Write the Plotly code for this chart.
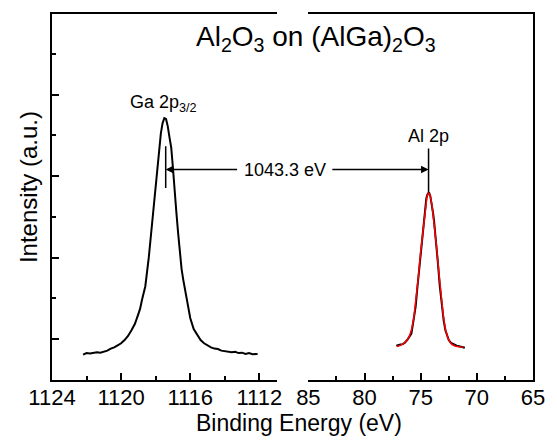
import plotly.graph_objects as go

# Ga 2p3/2 region (binding energy, eV) and intensity (a.u.)
ga_be = [1122.2, 1122.0, 1121.8, 1121.6, 1121.4, 1121.2, 1121.0, 1120.8, 1120.6, 1120.4,
         1120.2, 1120.0, 1119.8, 1119.6, 1119.4, 1119.2, 1119.0, 1118.9, 1118.8, 1118.6,
         1118.4, 1118.2, 1118.0, 1117.9, 1117.8, 1117.7, 1117.6, 1117.5, 1117.4, 1117.3,
         1117.2, 1117.1, 1117.0, 1116.9, 1116.8, 1116.7, 1116.6, 1116.5, 1116.4, 1116.3,
         1116.2, 1116.0, 1115.8, 1115.6, 1115.4, 1115.2, 1115.0, 1114.8, 1114.6, 1114.4,
         1114.2, 1114.0, 1113.8, 1113.6, 1113.4, 1113.2, 1113.0, 1112.8, 1112.6, 1112.4,
         1112.2, 1112.1]
ga_int = [0.62, 0.66, 0.65, 0.67, 0.68, 0.67, 0.70, 0.72, 0.77, 0.80,
          0.85, 0.90, 0.98, 1.08, 1.22, 1.38, 1.62, 1.75, 1.95, 2.30,
          3.00, 3.85, 4.80, 5.30, 5.72, 6.05, 6.30, 6.42, 6.40, 6.22,
          5.95, 5.70, 5.20, 4.55, 4.10, 3.60, 3.10, 2.72, 2.45, 2.22,
          2.00, 1.52, 1.25, 1.10, 0.98, 0.90, 0.84, 0.80, 0.77, 0.76,
          0.72, 0.71, 0.70, 0.68, 0.69, 0.66, 0.67, 0.64, 0.66, 0.63,
          0.64, 0.63]

# Al 2p region: measured data
al_be = [77.17, 77.0, 76.8, 76.6, 76.43, 76.2, 76.0, 75.83, 75.7, 75.6,
         75.45, 75.3, 75.2, 75.09, 74.9, 74.73, 74.6, 74.5, 74.4, 74.26,
         74.15, 74.0, 73.9, 73.81, 73.6, 73.46, 73.3, 73.1, 72.95, 72.8,
         72.71, 72.5, 72.3, 72.12, 71.8, 71.5, 71.3, 71.07]
al_int = [0.84, 0.86, 0.87, 0.88, 0.91, 0.98, 1.06, 1.14, 1.35, 1.55,
          1.80, 2.25, 2.55, 2.85, 3.40, 3.90, 4.25, 4.45, 4.55, 4.60,
          4.52, 4.30, 4.10, 3.90, 3.35, 2.85, 2.30, 1.79, 1.45, 1.22,
          1.14, 0.98, 0.91, 0.88, 0.84, 0.82, 0.80, 0.79]

# Al 2p fit
fit_be = [77.1, 76.8, 76.5, 76.2, 76.0, 75.8, 75.6, 75.4, 75.2, 75.0,
          74.8, 74.6, 74.45, 74.3, 74.15, 74.0, 73.8, 73.6, 73.4, 73.2,
          73.0, 72.8, 72.6, 72.4, 72.2, 71.9, 71.6, 71.2]
fit_int = [0.82, 0.85, 0.90, 0.98, 1.08, 1.25, 1.55, 2.00, 2.55, 3.15,
           3.70, 4.20, 4.48, 4.60, 4.52, 4.30, 3.85, 3.30, 2.70, 2.10,
           1.60, 1.25, 1.05, 0.93, 0.87, 0.83, 0.81, 0.80]

left_ticks = [1124, 1120, 1116, 1112]
right_ticks = [85, 80, 75, 70, 65]

ga_peak = 1117.42
al_peak = 74.3
delta_label = "1043.3 eV"

FONT = "Liberation Sans, Arial, sans-serif"

fig = go.Figure()
fig.add_trace(go.Scatter(x=ga_be, y=ga_int, mode="lines", line=dict(color="black", width=2),
                         xaxis="x", yaxis="y", showlegend=False))
fig.add_trace(go.Scatter(x=al_be, y=al_int, mode="lines", line=dict(color="black", width=2),
                         xaxis="x2", yaxis="y2", showlegend=False))
fig.add_trace(go.Scatter(x=fit_be, y=fit_int, mode="lines", line=dict(color="red", width=1.5),
                         xaxis="x2", yaxis="y2", showlegend=False))

axis_common = dict(showline=True, linecolor="black", linewidth=1.5, mirror=True,
                   ticks="inside", ticklen=7, tickwidth=1.5, tickcolor="black",
                   showgrid=False, zeroline=False, ticklabelstandoff=-3,
                   tickfont=dict(family=FONT, size=22, color="black"))

fig.update_layout(
    width=557, height=441,
    margin=dict(l=52, r=23, t=12, b=61),
    plot_bgcolor="white", paper_bgcolor="white",
    xaxis=dict(domain=[0, 0.467], range=[1124, 1111], tickvals=left_ticks,
               minor=dict(dtick=2, ticks="inside", ticklen=4, tickcolor="black", tickwidth=1.5),
               anchor="y", **axis_common),
    xaxis2=dict(domain=[0.533, 1], range=[85, 65], tickvals=right_ticks,
                minor=dict(dtick=2.5, ticks="inside", ticklen=4, tickcolor="black", tickwidth=1.5),
                anchor="y2", **axis_common),
    yaxis=dict(range=[0, 8.976], anchor="x", showline=True, linecolor="black", linewidth=1.5,
               mirror=False, ticks="inside", ticklen=7, tickwidth=1.5, tickcolor="black",
               tick0=1, dtick=2, showticklabels=False, showgrid=False, zeroline=False,
               minor=dict(dtick=1, tick0=0, ticks="inside", ticklen=4, tickcolor="black", tickwidth=1.5)),
    yaxis2=dict(range=[0, 8.976], anchor="x2", side="right", showline=True, linecolor="black",
                linewidth=1.5, ticks="", showticklabels=False, showgrid=False, zeroline=False),
)

# peak marker lines
fig.add_shape(type="line", xref="x", yref="y", x0=ga_peak, x1=ga_peak, y0=4.71, y1=5.73,
              line=dict(color="black", width=1.5))
fig.add_shape(type="line", xref="x2", yref="y2", x0=al_peak, x1=al_peak, y0=4.6, y1=5.68,
              line=dict(color="black", width=1.5))

# arrows
fig.add_annotation(x=ga_peak, y=5.16, xref="x", yref="y", ax=1113.2, ay=5.16, axref="x", ayref="y",
                   text="", showarrow=True, arrowhead=2, arrowsize=1, arrowwidth=1.5, arrowcolor="black")
fig.add_annotation(x=al_peak, y=5.16, xref="x2", yref="y2", ax=83.0, ay=5.16, axref="x2", ayref="y2",
                   text="", showarrow=True, arrowhead=2, arrowsize=1, arrowwidth=1.5, arrowcolor="black")
fig.add_annotation(x=0.484, y=5.16, xref="paper", yref="y", text=delta_label, showarrow=False,
                   font=dict(family=FONT, size=18, color="black"), xanchor="center", yanchor="middle")

# labels
fig.add_annotation(x=1117.55, y=6.45, xref="x", yref="y", text="Ga 2p<sub>3/2</sub>", showarrow=False,
                   font=dict(family=FONT, size=18, color="black"), xanchor="center", yanchor="bottom")
fig.add_annotation(x=al_peak, y=5.68, xref="x2", yref="y2", text="Al 2p", showarrow=False,
                   font=dict(family=FONT, size=18, color="black"), xanchor="center", yanchor="bottom")

# title
fig.add_annotation(x=0.548, y=0.932, xref="paper", yref="paper",
                   text="Al<sub>2</sub>O<sub>3</sub> on (AlGa)<sub>2</sub>O<sub>3</sub>", showarrow=False,
                   font=dict(family=FONT, size=28, color="black"), xanchor="center", yanchor="middle")

# axis titles
fig.add_annotation(x=0.5145, y=-0.117, xref="paper", yref="paper",
                   text="Binding Energy (eV)", showarrow=False,
                   font=dict(family=FONT, size=23, color="black"), xanchor="center", yanchor="middle")
fig.add_annotation(x=-0.05, y=0.527, xref="paper", yref="paper", text="Intensity (a.u.)",
                   showarrow=False, textangle=-90,
                   font=dict(family=FONT, size=24, color="black"), xanchor="center", yanchor="middle")

fig.write_html("out.html", config={"displayModeBar": False},
               post_script="document.body.style.margin='0';document.body.style.overflow='hidden';")
